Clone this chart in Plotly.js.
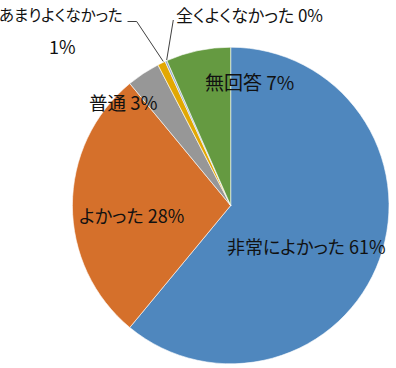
<!DOCTYPE html>
<html>
<head>
<meta charset="utf-8">
<script src="https://cdn.plot.ly/plotly-3.0.1.min.js"></script>
<style>
html,body{margin:0;padding:0;background:#fff;}
#chart{width:396px;height:368px;}
svg text{font-feature-settings:"palt" 1;}
</style>
</head>
<body>
<div id="chart"></div>
<script>
const labels = ['非常によかった', 'よかった', '普通', 'あまりよくなかった', '全くよくなかった', '無回答'];
const values = [61.0, 28.0, 3.4, 0.8, 0.2, 6.6];
const colors = ['#4F87BE', '#D5702B', '#979797', '#E2A803', '#8FA8C8', '#659A41'];

const W = 396, H = 368;
const px = x => x / W;
const py = y => 1 - y / H;
const total = values.reduce((a, b) => a + b, 0);
const pct = values.map(v => Math.round(v / total * 100) + '%');

// label anchor positions (pixels) and font sizes
const labelPos = [
  {x: 306.5, y: 246, s: 18, text: labels[0] + ' ' + pct[0]},
  {x: 131, y: 215, s: 18, text: labels[1] + ' ' + pct[1]},
  {x: 122.5, y: 102, s: 18.5, text: labels[2] + ' ' + pct[2]},
  {x: 61, y: 14, s: 15.5, text: labels[3]},
  {x: 62.5, y: 46, s: 18, text: pct[3]},
  {x: 249.5, y: 14, s: 17, text: labels[4] + ' ' + pct[4]},
  {x: 249.5, y: 81, s: 19, text: labels[5] + ' ' + pct[5]}
];

const annotations = labelPos.map(p => ({
  x: px(p.x), y: py(p.y), xref: 'paper', yref: 'paper',
  text: p.text, showarrow: false, xanchor: 'center', yanchor: 'middle',
  font: {family: '"Noto Sans CJK JP", sans-serif', size: p.s, color: '#111'}
}));

const lineStyle = {color: '#404040', width: 1};
const shapes = [
  {type: 'path', xref: 'paper', yref: 'paper', line: lineStyle,
   path: `M ${px(127.5)} ${py(21.5)} L ${px(136.7)} ${py(21.5)} L ${px(163.3)} ${py(61.5)}`},
  {type: 'line', xref: 'paper', yref: 'paper', line: lineStyle,
   x0: px(173.3), y0: py(20), x1: px(166.7), y1: py(60)}
];

const cx = 230.7, cy = 205.5, r = 158.3;
const trace = {
  type: 'pie',
  labels: labels,
  values: values,
  sort: false,
  direction: 'clockwise',
  rotation: 0,
  textinfo: 'none',
  hoverinfo: 'none',
  marker: {colors: colors, line: {color: '#ffffff', width: 0.6}},
  domain: {x: [px(cx - r), px(cx + r)], y: [py(cy + r), py(cy - r)]},
  showlegend: false
};

Plotly.newPlot('chart', [trace], {
  width: W, height: H,
  margin: {l: 0, r: 0, t: 0, b: 0},
  paper_bgcolor: '#ffffff',
  showlegend: false,
  annotations: annotations,
  shapes: shapes
}, {staticPlot: true});
</script>
</body>
</html>
